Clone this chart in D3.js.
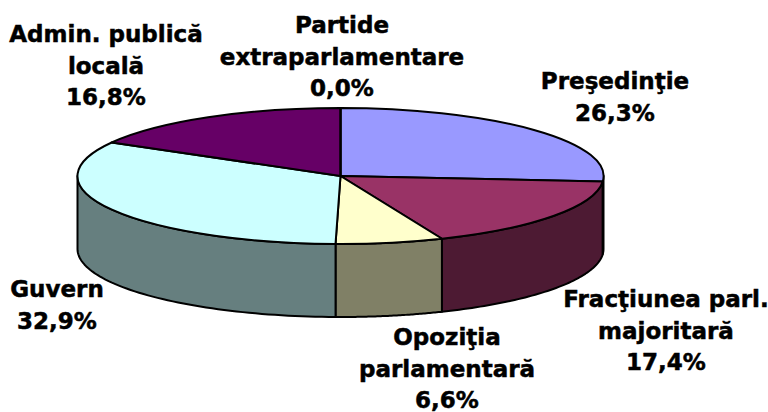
<!DOCTYPE html>
<html>
<head>
<meta charset="utf-8">
<script src="https://cdn.jsdelivr.net/npm/d3@7"></script>
<style>
html, body { margin: 0; padding: 0; background: #fff; }
text { font-family: "DejaVu Sans", Verdana, sans-serif; font-weight: bold; font-size: 23px; fill: #000; stroke: #000; stroke-width: 0.5px; }
</style>
</head>
<body>
<div class="d3chart"></div>
<script>
var width = 768,
    height = 412;

// slices clockwise from 12 o'clock
var categories = ["Preşedinţie", "Fracţiunea parl. majoritară", "Opoziţia parlamentară", "Guvern", "Admin. publică locală", "Partide extraparlamentare"];
var values = [26.3, 17.4, 6.6, 32.9, 16.8, 0.0];
var valueLabels = ["26,3%", "17,4%", "6,6%", "32,9%", "16,8%", "0,0%"];
var labelLines = [
    ["Preşedinţie"],
    ["Fracţiunea parl.", "majoritară"],
    ["Opoziţia", "parlamentară"],
    ["Guvern"],
    ["Admin. publică", "locală"],
    ["Partide", "extraparlamentare"]
];
var topColors = ["#9999ff", "#993366", "#ffffcc", "#ccffff", "#660066", "#ff8080"];
var sideColors = ["#4d4d80", "#4d1a33", "#808066", "#667f7f", "#330033", "#804040"];

// pie geometry
var cx = 340.5, cy = 176, rx = 263, ry = 68, depth = 73;
// centre of first line of each label
var labelPos = [[615, 89], [666, 307], [447, 345], [57, 297], [106, 42], [342, 33]];
var lineStep = 31.7;

var svg = d3.select(".d3chart").append("svg")
    .attr("width", width)
    .attr("height", height)
    .style("display", "block");

var pie = d3.pie().sort(null).value(function(d) { return d; });
var slices = pie(values);

var arc = d3.arc().innerRadius(0).outerRadius(1);

var ex = d3.scaleLinear().domain([-1, 1]).range([cx - rx, cx + rx]);
var ey = d3.scaleLinear().domain([-1, 1]).range([cy - ry, cy + ry]);

var rimLine = d3.line()
    .x(function(p) { return ex(Math.sin(p.a)); })
    .y(function(p) { return ey(-Math.cos(p.a)) + p.d; });

function sidePath(d) {
    // only the front half of the rim shows
    var a0 = Math.max(d.startAngle, Math.PI / 2),
        a1 = Math.min(d.endAngle, Math.PI * 1.5);
    if (a1 <= a0) return null;
    var n = 60, pts = [];
    d3.range(n + 1).forEach(function(i) {
        pts.push({a: a0 + (a1 - a0) * i / n, d: 0});
    });
    d3.range(n + 1).forEach(function(i) {
        pts.push({a: a1 - (a1 - a0) * i / n, d: depth});
    });
    return rimLine(pts) + "Z";
}

svg.append("g")
    .attr("class", "sides")
    .selectAll("path")
    .data(slices.filter(function(d) { return sidePath(d); }))
    .enter().append("path")
    .attr("d", sidePath)
    .attr("fill", function(d) { return sideColors[d.index]; })
    .attr("stroke", "#000")
    .attr("stroke-width", 2)
    .attr("stroke-linejoin", "round");

svg.append("g")
    .attr("class", "tops")
    .attr("transform", "translate(" + cx + "," + cy + ") scale(" + rx + "," + ry + ")")
    .selectAll("path")
    .data(slices)
    .enter().append("path")
    .attr("d", arc)
    .attr("fill", function(d) { return topColors[d.index]; })
    .attr("stroke", "#000")
    .attr("stroke-width", 2)
    .attr("stroke-linejoin", "round")
    .attr("vector-effect", "non-scaling-stroke");

var labels = svg.append("g")
    .attr("class", "labels")
    .selectAll("text")
    .data(categories)
    .enter().append("text")
    .attr("text-anchor", "middle")
    .attr("transform", function(d, i) { return "translate(" + labelPos[i] + ")"; });

labels.selectAll("tspan")
    .data(function(d, i) { return labelLines[i].concat(valueLabels[i]); })
    .enter().append("tspan")
    .attr("x", 0)
    .attr("y", function(d, i) { return i * lineStep; })
    .text(function(d) { return d; });
</script>
</body>
</html>
